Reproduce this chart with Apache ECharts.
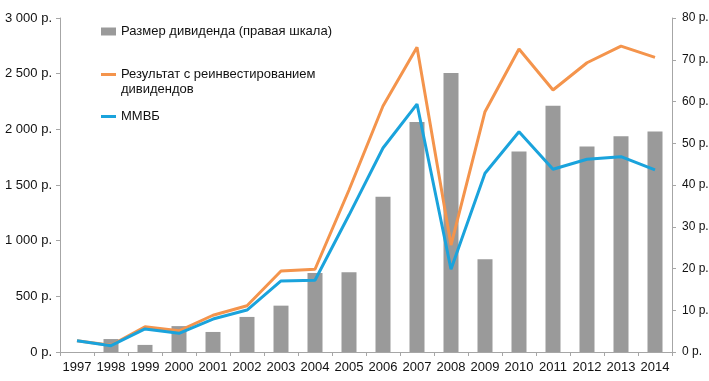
<!DOCTYPE html>
<html><head><meta charset="utf-8">
<script src="https://cdn.jsdelivr.net/npm/echarts@6/dist/echarts.min.js"></script>
<style>html,body{margin:0;padding:0;background:#fff}#c{width:709px;height:381px}</style>
</head><body><div id="c"></div>
<script>
const years = ['1997','1998','1999','2000','2001','2002','2003','2004','2005','2006','2007','2008','2009','2010','2011','2012','2013','2014'];
const dividends = [null,3.1,1.7,6.2,4.8,8.4,11.1,18.9,19.1,37.2,55.1,66.8,22.2,48.0,59.0,49.2,51.7,52.8];
const reinvest = [101,60,227,190,330,416,727,743,1455,2210,2737,961,2158,2721,2353,2598,2748,2647];
const micex = [101,57,207,168,296,377,638,644,1230,1832,2227,743,1605,1978,1641,1731,1754,1635];
const leftTicks = {min:0,max:3000,interval:500};
const rightTicks = {min:0,max:80,interval:10};
const names = ['Размер дивиденда (правая шкала)','Результат с реинвестированием дивидендов','ММВБ'];

const fmt = v => String(v).replace(/\B(?=(\d{3})+(?!\d))/g,' ') + ' р.';
const font = 'Liberation Sans, Arial, sans-serif';
const axisColor = '#a6a6a6';
const lt = {fontSize:13,color:'#111',fontFamily:font,lineHeight:15};
const chart = echarts.init(document.getElementById('c'));
chart.setOption({
  animation:false,
  textStyle:{fontFamily:font},
  grid:{left:60,right:37,top:18,bottom:29,containLabel:false,outerBoundsMode:'none'},
  legend:[
    {data:[names[0]],left:101,top:24,padding:0,itemWidth:15,itemHeight:8,icon:'rect',textStyle:lt},
    {data:[names[1]],left:101,top:52,padding:0,itemWidth:15,itemHeight:3,icon:'rect',
     formatter:()=> ' \nРезультат с реинвестированием\nдивидендов',textStyle:lt},
    {data:[names[2]],left:101,top:109,padding:0,itemWidth:15,itemHeight:3,icon:'rect',textStyle:lt}
  ],
  xAxis:{type:'category',data:years,boundaryGap:true,
    axisLine:{lineStyle:{color:axisColor,width:1}},
    axisTick:{show:true,alignWithLabel:false,length:4,lineStyle:{color:axisColor}},
    axisLabel:{fontSize:13,color:'#111',margin:9,interval:0}},
  yAxis:[
    {type:'value',position:'left',...leftTicks,
     axisLine:{show:true,lineStyle:{color:axisColor}},
     axisTick:{show:true,length:4,lineStyle:{color:axisColor}},
     splitLine:{show:false},
     axisLabel:{fontSize:13,color:'#111',formatter:fmt,margin:8}},
    {type:'value',position:'right',...rightTicks,
     axisLine:{show:true,lineStyle:{color:axisColor}},
     axisTick:{show:true,length:4,lineStyle:{color:axisColor}},
     splitLine:{show:false},
     axisLabel:{fontSize:12,color:'#111',formatter:fmt,margin:10}}
  ],
  series:[
    {name:names[0],type:'bar',yAxisIndex:1,data:dividends,barWidth:15,
     itemStyle:{color:'#9a9a9a'}},
    {name:names[1],type:'line',yAxisIndex:0,data:reinvest,symbol:'none',
     lineStyle:{color:'#f4944c',width:3},itemStyle:{color:'#f4944c'}},
    {name:names[2],type:'line',yAxisIndex:0,data:micex,symbol:'none',
     lineStyle:{color:'#1aa3dc',width:3},itemStyle:{color:'#1aa3dc'}}
  ]
});
</script></body></html>
